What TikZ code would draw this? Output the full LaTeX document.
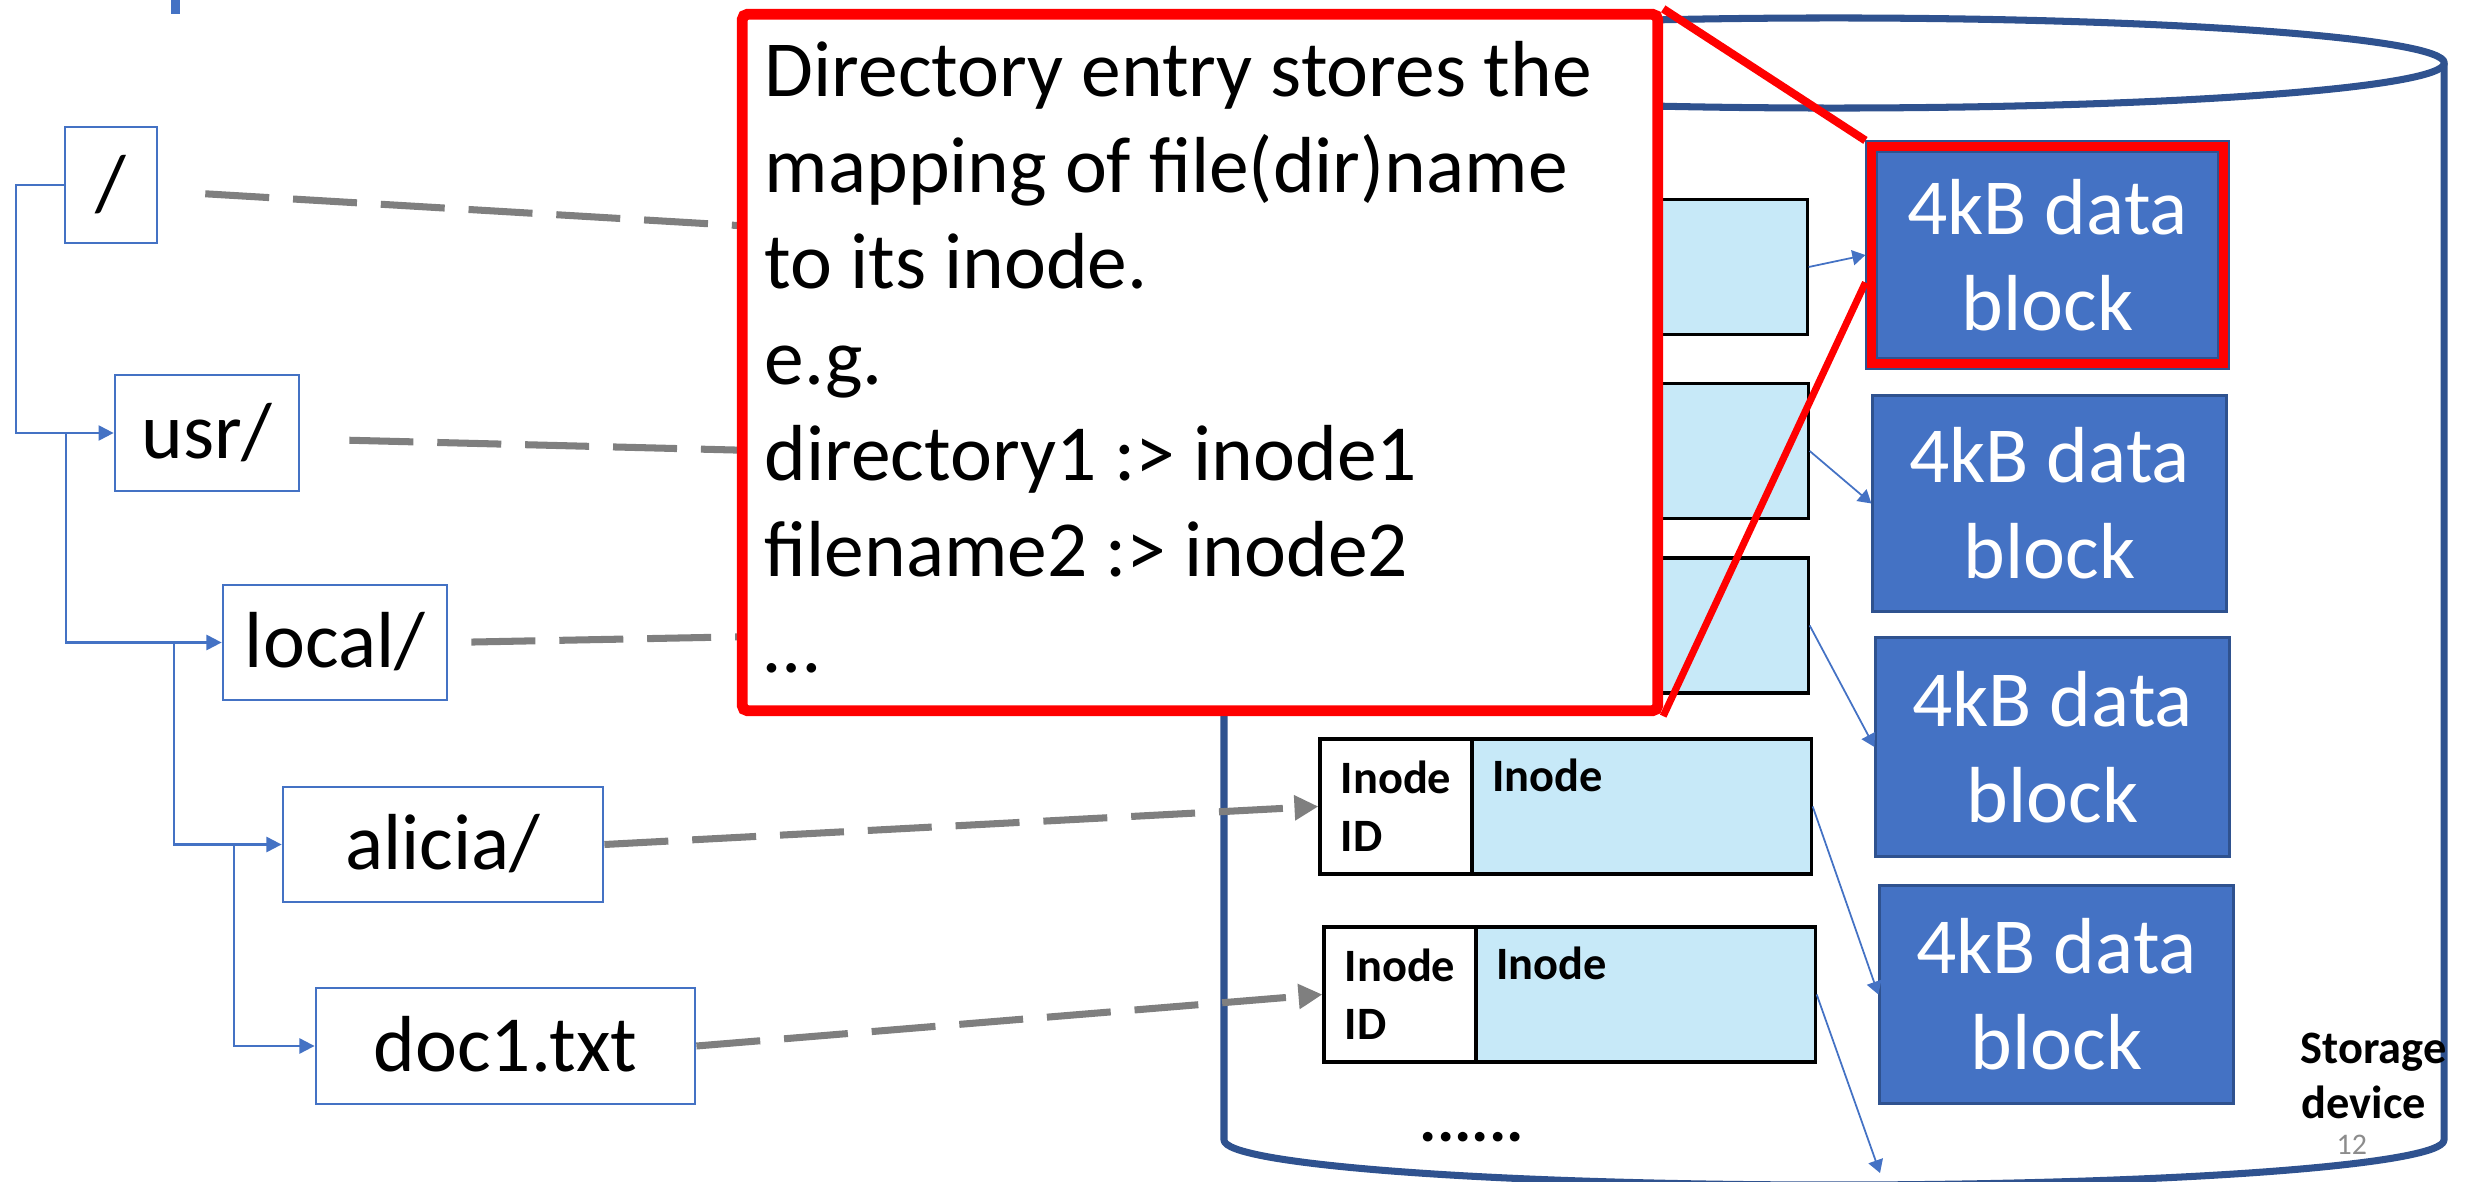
\documentclass[tikz,border=0pt]{standalone}
\usepackage{fontspec}
\setmainfont{Carlito}
\usetikzlibrary{arrows.meta,calc}

\definecolor{pptblue}{HTML}{4472C4}
\definecolor{pptdark}{HTML}{2F528F}
\definecolor{inodefill}{HTML}{C7E9F8}
\definecolor{dashgray}{HTML}{7F7F7F}
\definecolor{pagegray}{HTML}{8C8C8C}

\newcommand\txtbig{\fontsize{22.6pt}{27.3pt}\selectfont}
\newcommand\txtsmall{\fontsize{13.2pt}{16.5pt}\selectfont\bfseries}

\begin{document}
\begin{tikzpicture}[x=0.01cm,y=-0.01cm,
  fname/.style={draw=pptblue, line width=0.75pt, inner sep=0pt, font=\txtbig,
    text height=17.2pt, text depth=2.9pt},
  block/.style={fill=pptblue, draw=pptdark, line width=0.85pt, text=white,
    font=\txtbig, align=center, inner sep=0pt,
    minimum width=3.53cm, minimum height=2.16cm},
  idcell/.style={draw=black, fill=white, line width=0.9pt, minimum width=1.52cm,
    minimum height=1.35cm, inner sep=0pt, font=\txtsmall, align=left},
  incell/.style={draw=black, fill=inodefill, line width=0.9pt,
    minimum height=1.35cm, inner sep=0pt},
  intext/.style={font=\txtsmall, anchor=base west, inner sep=0pt},
  dashc/.style={draw=dashgray, line width=2pt, dash pattern=on 18.2pt off 6.8pt,
    -{Triangle[length=6.8pt,width=6.8pt]}},
  tree/.style={draw=pptblue, line width=0.6pt, -{Triangle[length=4.3pt,width=4.3pt]}},
  link/.style={draw=pptblue, line width=0.5pt, -{Triangle[length=3.7pt,width=4.3pt]}},
  callout/.style={draw=red, fill=white, line width=3.1pt, rounded corners=1.5pt,
    inner sep=0pt},
  hilite/.style={draw=red, line width=2.3pt},
  cyl/.style={draw=pptdark, line width=2pt, line join=round}
]
\useasboundingbox (0,0) rectangle (2475,1182);
\clip (0,0) rectangle (2475,1182);

% title rule fragment
\fill[pptblue] (171,0) rectangle (180,14);

% storage device cylinder
\draw[cyl] (1834,63) ellipse [x radius=6.1cm, y radius=0.45cm];
\draw[cyl] (1224,63) -- (1224,1140)
  .. controls (1224,1164.9) and (1497.1,1185) .. (1834,1185)
  .. controls (2170.9,1185) and (2444,1164.9) .. (2444,1140) -- (2444,63);

% inode table entries
\node[idcell] (idc1) at (1396,267) {};
\node[incell, minimum width=3.35cm] (inc1) at (1639.5,267) {};
\node[idcell] (idc2) at (1396,451) {};
\node[incell, minimum width=3.36cm] (inc2) at (1640,451) {};
\node[idcell] (idc3) at (1396,625.5) {};
\node[incell, minimum width=3.36cm] (inc3) at (1640,625.5) {};
\node[idcell] (idc4) at (1396,806.5) {Inode\\ID};
\node[incell, minimum width=3.39cm] (inc4) at (1641.5,806.5) {};
\node[intext] (inl4) at ($(inc4.north west)+(21,54)$) {Inode};
\node[idcell] (idc5) at (1400,994.5) {Inode\\ID};
\node[incell, minimum width=3.39cm] (inc5) at (1645.5,994.5) {};
\node[intext] (inl5) at ($(inc5.north west)+(21,54)$) {Inode};

% data blocks
\node[block, minimum width=3.61cm, minimum height=2.26cm] (blk1) at (2047.5,255) {4kB data\\block};
\draw[red, line width=2.56pt] ([shift={(6.5,6.5)}]blk1.north west) rectangle ([shift={(-6.5,-6.5)}]blk1.south east);
\draw[pptdark, line width=0.6pt] ([shift={(11.8,11.8)}]blk1.north west) rectangle ([shift={(-11.8,-11.8)}]blk1.south east);
\node[block] (blk2) at (2049.5,503.5) {4kB data\\block};
\node[block, minimum height=2.18cm] (blk3) at (2052.5,747) {4kB data\\block};
\node[block, minimum height=2.17cm] (blk4) at (2056.5,994.5) {4kB data\\block};

% inode -> data block pointers
\coordinate (next) at (1880,1173);
\draw[link] (inc1.east) -- (blk1.west);
\draw[link] (inc2.east) -- (blk2.west);
\draw[link] (inc3.east) -- (blk3.west);
\draw[link] (inc4.east) -- (blk4.west);
\draw[link] (inc5.east) -- (next);

% directory tree
\node[fname, minimum width=0.92cm, minimum height=1.16cm] (root) at (111,185) {/};
\node[fname, minimum width=1.84cm, minimum height=1.16cm] (usr) at (207,433) {usr/};
\node[fname, minimum width=2.24cm, minimum height=1.15cm] (loc) at (335,642.5) {local/};
\node[fname, minimum width=3.20cm, minimum height=1.15cm] (alicia) at (443,844.5) {alicia/};
\node[fname, minimum width=3.79cm, minimum height=1.16cm] (doc) at (505.5,1046) {doc1.txt};

\draw[tree] (root.west) -- ++(-48,0) |- (usr.west);
\draw[tree] ($(usr.west)+(-48,0)$) |- (loc.west);
\draw[tree] ($(loc.west)+(-48,0)$) |- (alicia.west);
\draw[tree] ($(alicia.west)+(-48,0)$) |- (doc.west);

% name -> inode lookups
\draw[dashc, shorten <=0.47cm] ($(root.east)+(0,6)$) -- ($(idc1.north west)!0.45!(idc1.south west)$);
\draw[dashc, shorten <=0.49cm] ($(usr.east)+(0,6)$) -- ($(idc2.north west)!0.6!(idc2.south west)$);
\draw[dashc, shorten <=0.23cm] (loc.east) -- (idc3.west);
\draw[dashc] (alicia.east) -- (idc4.west);
\draw[dashc] (doc.east) -- (idc5.west);

% explanatory callout
\node[callout, minimum width=9.15cm, minimum height=6.96cm] (note) at (1200,362.5) {};
\foreach \tline [count=\i] in {Directory entry stores the, mapping of file(dir)name,
    to its inode., e.g., directory1 :> inode1, filename2 :> inode2, …}
  \node[font=\txtbig, anchor=base west, inner sep=0pt] (note\i) at (764,{96.1*\i}) {\tline};
\draw[hilite] (note.north east) -- (blk1.north west);
\draw[hilite, line width=2pt] (note.south east) -- ($(blk1.north west)!0.62!(blk1.south west)$);

% remaining labels
\node[font=\fontsize{18.5pt}{20pt}\selectfont\bfseries, anchor=base west, inner sep=0pt] (more) at (1419,1141) {......};
\node[intext] (stor1) at (2300,1063) {Storage};
\node[intext] (stor2) at (2301,1118) {device};
\node[font=\fontsize{8.5pt}{10pt}\selectfont, text=pagegray, anchor=base west, inner sep=0pt] (pgnum) at (2336,1154) {12};
\end{tikzpicture}
\end{document}
